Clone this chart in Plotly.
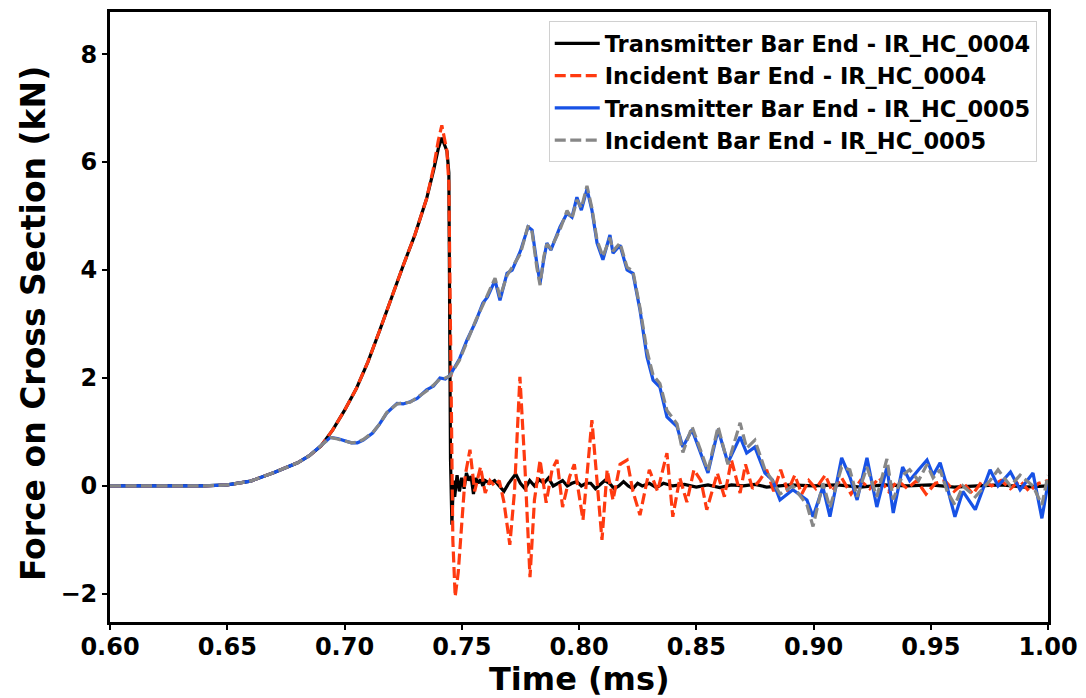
import plotly.graph_objects as go

# ---------------- data ----------------
t_black = [0.60, 0.64, 0.65, 0.66, 0.67, 0.68, 0.685, 0.69, 0.695, 0.70, 0.705, 0.71, 0.715, 0.72,
           0.725, 0.73, 0.735, 0.738, 0.740, 0.7415, 0.7425, 0.7437, 0.7445, 0.7452, 0.7458, 0.7464,
           0.747, 0.748, 0.749, 0.750, 0.751, 0.752, 0.753, 0.754, 0.755, 0.756, 0.757, 0.758, 0.759,
           0.760, 0.762, 0.764, 0.766, 0.768, 0.770, 0.772, 0.773, 0.775, 0.777, 0.779, 0.781, 0.783,
           0.785, 0.787, 0.789, 0.791, 0.793, 0.795, 0.797, 0.799, 0.801, 0.803, 0.805, 0.807, 0.809,
           0.811, 0.813, 0.815, 0.817, 0.819, 0.821, 0.823, 0.825, 0.827, 0.830, 0.833, 0.836, 0.84,
           0.845, 0.85, 0.855, 0.86, 0.865, 0.87, 0.875, 0.88, 0.89, 0.90, 0.91, 0.92, 0.93, 0.94,
           0.95, 0.96, 0.97, 0.98, 0.99, 1.00]
f_black = [0.0, 0.0, 0.02, 0.09, 0.25, 0.43, 0.56, 0.74, 1.04, 1.4, 1.8, 2.3, 2.88, 3.5,
           4.08, 4.65, 5.32, 5.85, 6.25, 6.45, 6.35, 6.2, 5.8, 0.5, -0.72, 0.1,
           -0.2, 0.2, -0.1, 0.15, -0.05, 0.24, 0.1, 0.18, -0.15, 0.15, 0.05, 0.12, 0.0,
           0.1, 0.05, 0.1, 0.0, -0.1, 0.05, 0.15, 0.22, 0.05, -0.05, 0.1, 0.0, 0.12,
           0.05, 0.15, 0.0, 0.05, 0.1, 0.0, 0.05, 0.08, 0.0, 0.05, 0.05, -0.05, 0.02,
           0.1, 0.05, -0.05, 0.0, 0.08, 0.0, -0.05, 0.05, 0.0, 0.05, -0.03, 0.05, 0.0,
           0.03, -0.02, 0.02, -0.03, 0.02, 0.0, 0.03, -0.02, 0.02, 0.0, 0.02, -0.02, 0.02, 0.0,
           0.02, -0.02, 0.0, 0.02, -0.02, 0.0]

t_red = [0.60, 0.64, 0.65, 0.66, 0.67, 0.68, 0.685, 0.69, 0.695, 0.70, 0.705, 0.71, 0.715, 0.72,
         0.725, 0.73, 0.735, 0.738, 0.740, 0.7415, 0.7425, 0.7437, 0.7445, 0.7455, 0.7462, 0.7472,
         0.7485, 0.750, 0.7515, 0.7535, 0.7555, 0.758, 0.760, 0.762, 0.764, 0.766, 0.768, 0.7705,
         0.7725, 0.7748, 0.777, 0.7791, 0.781, 0.7834, 0.786, 0.7885, 0.7906, 0.793, 0.796, 0.798,
         0.8017, 0.8055, 0.8075, 0.8098, 0.812, 0.8145, 0.8175, 0.8205, 0.823, 0.826, 0.830, 0.8335,
         0.8375, 0.840, 0.843, 0.846, 0.849, 0.852, 0.8545, 0.859, 0.862, 0.865, 0.8687, 0.871,
         0.874, 0.877, 0.880, 0.883, 0.886, 0.889, 0.892, 0.895, 0.898, 0.901, 0.905, 0.908, 0.912,
         0.916, 0.92, 0.924, 0.928, 0.932, 0.936, 0.94, 0.944, 0.948, 0.952, 0.956, 0.96, 0.964,
         0.968, 0.972, 0.976, 0.98, 0.984, 0.988, 0.992, 0.996, 1.00]
f_red = [0.0, 0.0, 0.02, 0.09, 0.25, 0.43, 0.56, 0.74, 1.04, 1.4, 1.8, 2.3, 2.88, 3.5,
         4.08, 4.65, 5.32, 5.9, 6.4, 6.68, 6.45, 6.2, 5.6, 1.0, -1.0, -2.05,
         -1.6, -0.7, 0.2, 0.67, -0.1, 0.35, -0.13, 0.1, 0.0, 0.1, -0.3, -1.09,
         -0.1, 2.02, 0.3, -1.69, -0.26, 0.48, -0.31, 0.3, 0.48, -0.39, 0.17, 0.4,
         -0.63, 1.22, 0.2, -1.0, 0.3, -0.26, 0.4, 0.48, -0.1, -0.54, 0.3, -0.1,
         0.61, -0.57, 0.15, -0.3, 0.3, 0.1, -0.44, 0.24, -0.2, 0.48, -0.13, 0.4,
         -0.05, 0.1, 0.3, -0.1, 0.3, -0.1, 0.2, -0.15, 0.1, -0.05, 0.2, -0.1, 0.15,
         -0.15, 0.1, -0.05, 0.15, -0.1, 0.1, -0.05, 0.1, -0.15, 0.05, 0.1, -0.1, 0.05,
         -0.15, 0.1, 0.0, 0.1, -0.05, 0.1, -0.1, 0.05, 0.1]

t_blue = [0.60, 0.64, 0.65, 0.66, 0.67, 0.68, 0.685, 0.69, 0.694, 0.697, 0.700, 0.703, 0.7055,
          0.708, 0.712, 0.715, 0.718, 0.7224, 0.725, 0.728, 0.731, 0.735, 0.738, 0.7407, 0.743,
          0.745, 0.749, 0.7522, 0.756, 0.759, 0.761, 0.7642, 0.7663, 0.7693, 0.7715, 0.775, 0.7783,
          0.780, 0.782, 0.7834, 0.785, 0.7863, 0.788, 0.7919, 0.7949, 0.797, 0.7991, 0.801, 0.8034,
          0.8055, 0.8077, 0.8102, 0.8132, 0.8145, 0.8175, 0.8205, 0.823, 0.826, 0.829, 0.8316,
          0.8345, 0.8375, 0.8418, 0.8443, 0.8482, 0.8515, 0.855, 0.8593, 0.8635, 0.8687, 0.8715,
          0.875, 0.8793, 0.8825, 0.8857, 0.8912, 0.8972, 0.8998, 0.904, 0.907, 0.912, 0.9155,
          0.9186, 0.9228, 0.927, 0.9313, 0.934, 0.938, 0.941, 0.9448, 0.9484, 0.951, 0.954, 0.957,
          0.9603, 0.9637, 0.969, 0.9753, 0.9787, 0.984, 0.9881, 0.9936, 0.9974, 1.0]
f_blue = [0.0, 0.0, 0.02, 0.09, 0.25, 0.43, 0.56, 0.74, 0.9, 0.88, 0.84, 0.80, 0.80,
          0.85, 0.98, 1.15, 1.35, 1.53, 1.52, 1.56, 1.62, 1.78, 1.85, 2.0, 1.98,
          2.05, 2.35, 2.7, 3.05, 3.39, 3.5, 3.81, 3.44, 3.94, 4.0, 4.35, 4.8,
          4.74, 4.13, 3.76, 4.2, 4.5, 4.37, 4.8, 5.05, 4.98, 5.35, 5.11, 5.5,
          5.11, 4.5, 4.19, 4.65, 4.31, 4.46, 4.0, 3.94, 3.26, 2.39, 1.96,
          1.83, 1.28, 1.1, 0.72, 1.04, 0.67, 0.24, 1.04, 0.43, 0.91, 0.61,
          0.72, 0.24, 0.11, -0.26, -0.07, -0.26, -0.57, -0.02, -0.57, 0.52, 0.17,
          -0.26, 0.52, -0.39, 0.35, -0.5, 0.35, 0.1, 0.3, 0.48, 0.2, 0.43, -0.02,
          -0.57, -0.1, -0.44, 0.3, 0.0, 0.26, -0.07, 0.24, -0.6, 0.05]

t_gray = t_blue
f_gray = [0.0, 0.0, 0.02, 0.09, 0.25, 0.43, 0.56, 0.74, 0.9, 0.87, 0.83, 0.80, 0.81,
          0.86, 0.99, 1.15, 1.36, 1.52, 1.54, 1.55, 1.64, 1.76, 1.87, 1.98, 2.0,
          2.04, 2.33, 2.68, 3.07, 3.35, 3.55, 3.85, 3.5, 3.9, 4.05, 4.3, 4.82,
          4.7, 4.05, 3.72, 4.25, 4.48, 4.4, 4.75, 5.1, 4.95, 5.3, 5.15, 5.56,
          5.15, 4.55, 4.25, 4.6, 4.35, 4.5, 4.05, 3.98, 3.3, 2.5, 2.05,
          1.9, 1.4, 1.15, 0.62, 1.1, 0.7, 0.28, 1.1, 0.4, 1.17, 0.7,
          0.85, 0.3, 0.1, -0.15, 0.0, -0.35, -0.75, 0.05, -0.4, 0.35, 0.3,
          -0.2, 0.35, -0.2, 0.5, -0.25, 0.2, 0.3, 0.1, 0.4, 0.15, 0.3, -0.1,
          -0.35, 0.0, -0.2, 0.1, 0.3, 0.0, 0.2, 0.0, -0.35, 0.2]

names = ["Transmitter Bar End - IR_HC_0004", "Incident Bar End - IR_HC_0004",
         "Transmitter Bar End - IR_HC_0005", "Incident Bar End - IR_HC_0005"]
x_ticks = [0.60, 0.65, 0.70, 0.75, 0.80, 0.85, 0.90, 0.95, 1.00]
y_ticks = [-2, 0, 2, 4, 6, 8]
x_title = "Time (ms)"
y_title = "Force on Cross Section (kN)"

# ---------------- figure ----------------
FONT = "DejaVu Sans"
LW = 3.2
DASH = "11px,4.5px"
fig = go.Figure()
fig.add_trace(go.Scatter(x=t_black, y=f_black, mode="lines", name=names[0],
                         line=dict(color="#000000", width=LW)))
fig.add_trace(go.Scatter(x=t_red, y=f_red, mode="lines", name=names[1],
                         line=dict(color="#ff3a10", width=LW, dash=DASH)))
fig.add_trace(go.Scatter(x=t_blue, y=f_blue, mode="lines", name=names[2],
                         line=dict(color="#1752e6", width=LW)))
fig.add_trace(go.Scatter(x=t_gray, y=f_gray, mode="lines", name=names[3],
                         line=dict(color="#878787", width=LW, dash=DASH)))

fig.update_layout(
    width=1086, height=698,
    margin=dict(l=110, r=38, t=12, b=76),
    paper_bgcolor="white", plot_bgcolor="white",
    font=dict(family=FONT, color="black", weight="bold"),
    showlegend=True,
    legend=dict(x=0.988, y=0.985, xanchor="right", yanchor="top",
                bgcolor="rgba(255,255,255,0.85)", bordercolor="#d0d0d0", borderwidth=1,
                font=dict(family=FONT, size=22.5, color="black", weight="bold"),
                tracegroupgap=0, itemwidth=45),
    annotations=[
        dict(text=x_title, xref="paper", yref="paper", x=0.5, y=-0.0934,
             xanchor="center", yanchor="middle", showarrow=False,
             font=dict(family=FONT, size=32, color="black", weight="bold")),
        dict(text=y_title, xref="paper", yref="paper", x=-0.0821, y=0.49,
             xanchor="center", yanchor="middle", showarrow=False, textangle=-90,
             font=dict(family=FONT, size=33, color="black", weight="bold")),
    ],
)
fig.update_xaxes(
    range=[0.6, 1.0], tickvals=x_ticks, tickformat=".2f", automargin=False,
    showgrid=False, zeroline=False,
    showline=True, linecolor="black", linewidth=3, mirror=True,
    ticks="outside", ticklen=5, tickwidth=2, tickcolor="black",
    tickfont=dict(family=FONT, size=24, color="black", weight="bold"),
    ticklabelstandoff=-4,
)
fig.update_yaxes(
    range=[-2.52, 8.78], tickvals=y_ticks, automargin=False,
    showgrid=False, zeroline=False,
    showline=True, linecolor="black", linewidth=3, mirror=True,
    ticks="outside", ticklen=5, tickwidth=2, tickcolor="black",
    tickfont=dict(family=FONT, size=24, color="black", weight="bold"),
)

fig.write_html("out.html")
